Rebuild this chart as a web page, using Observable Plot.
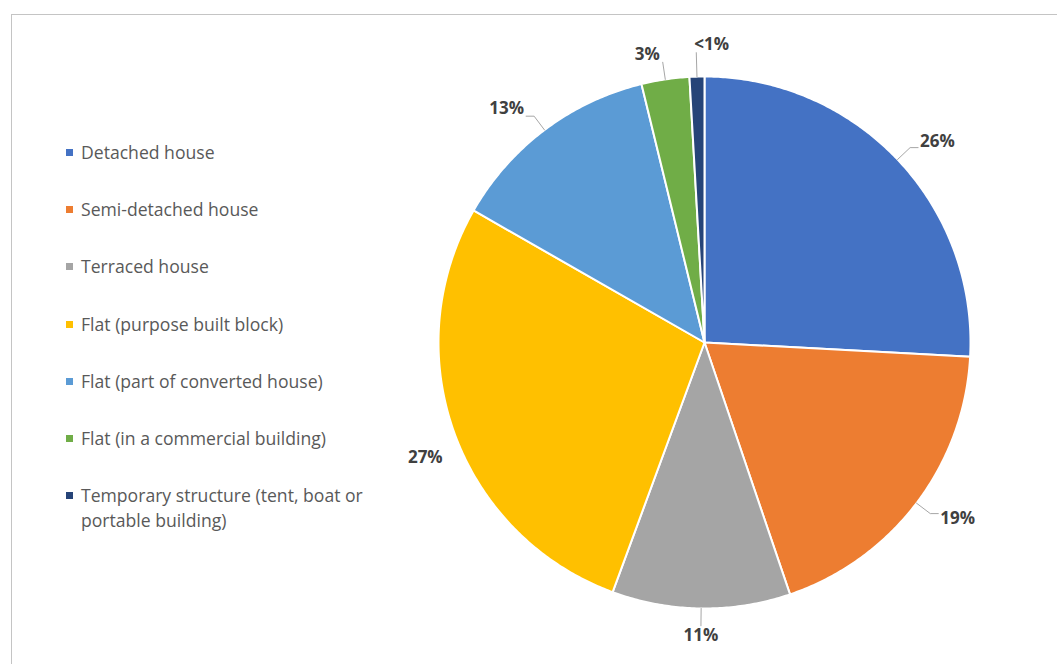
<!DOCTYPE html>
<html>
<head>
<meta charset="utf-8">
<script src="https://cdn.jsdelivr.net/npm/d3@7"></script>
<script src="https://cdn.jsdelivr.net/npm/@observablehq/plot@0.6"></script>
<style>
  html, body { margin: 0; padding: 0; background: #fff; overflow: hidden; }
  #wrap { position: relative; width: 1057px; height: 664px; overflow: hidden; font-family: "Open Sans", sans-serif; }
  #frame { position: absolute; left: 11px; top: 14px; width: 1200px; height: 800px; border: 1px solid #c4c4c4; box-sizing: border-box; }
  #chart { position: absolute; left: 0; top: 0; }
  #legend { position: absolute; left: 66px; top: 140px; color: #595959; font-size: 17.6px; }
  .item { position: relative; height: 57.2px; line-height: 25px; padding-left: 15px; width: 305px; }
  .sw { position: absolute; left: 0; top: 9px; width: 7px; height: 7px; }
</style>
</head>
<body>
<div id="wrap">
  <div id="frame"></div>
  <div id="chart"></div>
  <div id="legend"></div>
</div>
<script>
const categories = [
  "Detached house",
  "Semi-detached house",
  "Terraced house",
  "Flat (purpose built block)",
  "Flat (part of converted house)",
  "Flat (in a commercial building)",
  "Temporary structure (tent, boat or portable building)"
];
const values = [25.8, 18.9, 10.8, 27.6, 12.9, 2.9, 0.9];
const labels = ["26%", "19%", "11%", "27%", "13%", "3%", "<1%"];
const colors = ["#4472C4", "#ED7D31", "#A5A5A5", "#FFC000", "#5B9BD5", "#70AD47", "#264478"];

// layout
const W = 1057, H = 664, CX = 704, CY = 342, R = 266;
const xDomain = [-CX / R, (W - CX) / R];
const yDomain = [-(H - CY) / R, CY / R];
const px = v => v / R; // pixels -> data units

const arcs = d3.pie().sort(null).value(d => d)(values);

// polygon vertices for each slice (angle clockwise from 12 o'clock)
const verts = [];
arcs.forEach((a, i) => {
  const cat = categories[i];
  verts.push({cat, x: 0, y: 0});
  const n = Math.max(2, Math.ceil((a.endAngle - a.startAngle) / (Math.PI / 360)));
  for (let k = 0; k <= n; k++) {
    const t = a.startAngle + (a.endAngle - a.startAngle) * k / n;
    verts.push({cat, x: Math.sin(t), y: Math.cos(t)});
  }
  verts.push({cat, x: 0, y: 0});
});

// label placement (best-fit style, outside end)
const leaderPts = [];
const labelRows = arcs.map((a, i) => {
  const m = (a.startAngle + a.endAngle) / 2;
  const s = Math.sin(m), c = Math.cos(m);
  const hasLeader = labels[i] !== "27%";
  const rEnd = i === arcs.length - 1 ? 1.09 : 1.065;
  let px0 = rEnd * s, py0 = rEnd * c;
  let anchor, tx, ty;
  if (!hasLeader) {
    return {i, label: labels[i], anchor: "middle", x: 1.13 * Math.sin(m - 0.03), y: 1.13 * Math.cos(m - 0.03) - px(4)};
  }
  leaderPts.push({i, x: 1.0 * s, y: 1.0 * c});
  leaderPts.push({i, x: px0, y: py0});
  if (Math.abs(s) > 0.3) {
    const dir = s > 0 ? 1 : -1;
    const qx = px0 + dir * px(8);
    leaderPts.push({i, x: qx, y: py0});
    anchor = s > 0 ? "start" : "end";
    tx = qx + dir * px(2);
    ty = py0 + px(9) * c;
  } else if (Math.abs(s) < 0.02) {
    anchor = "middle";
    tx = px0; ty = py0 + (c > 0 ? px(9) : -px(10));
  } else {
    anchor = (i === arcs.length - 1) ? "start" : (s > 0 ? "start" : "end");
    tx = px0 + (anchor === "start" ? -px(2) : -px(3));
    ty = py0 + px(8) * c;
  }
  return {i, label: labels[i], anchor, x: tx, y: ty};
});

const textOpts = {x: "x", y: "y", text: "label", fill: "#404040", fontSize: 17, fontWeight: "bold", fontFamily: "Open Sans, sans-serif"};

const chart = Plot.plot({
  width: W, height: H,
  margin: 0,
  x: {domain: xDomain, axis: null},
  y: {domain: yDomain, axis: null},
  color: {domain: categories, range: colors},
  marks: [
    Plot.line(verts, {x: "x", y: "y", z: "cat", fill: "cat", stroke: "white", strokeWidth: 2, strokeLinejoin: "round", curve: "linear"}),
    Plot.line(leaderPts, {x: "x", y: "y", z: "i", stroke: "#a6a6a6", strokeWidth: 1, curve: "linear"}),
    Plot.text(labelRows.filter(d => d.anchor === "start"), {...textOpts, textAnchor: "start"}),
    Plot.text(labelRows.filter(d => d.anchor === "end"), {...textOpts, textAnchor: "end"}),
    Plot.text(labelRows.filter(d => d.anchor === "middle"), {...textOpts, textAnchor: "middle"})
  ]
});
document.getElementById("chart").appendChild(chart);

const legend = document.getElementById("legend");
categories.forEach((c, i) => {
  const it = document.createElement("div");
  it.className = "item";
  const sw = document.createElement("span");
  sw.className = "sw";
  sw.style.background = colors[i];
  it.appendChild(sw);
  it.appendChild(document.createTextNode(c));
  legend.appendChild(it);
});
</script>
</body>
</html>
